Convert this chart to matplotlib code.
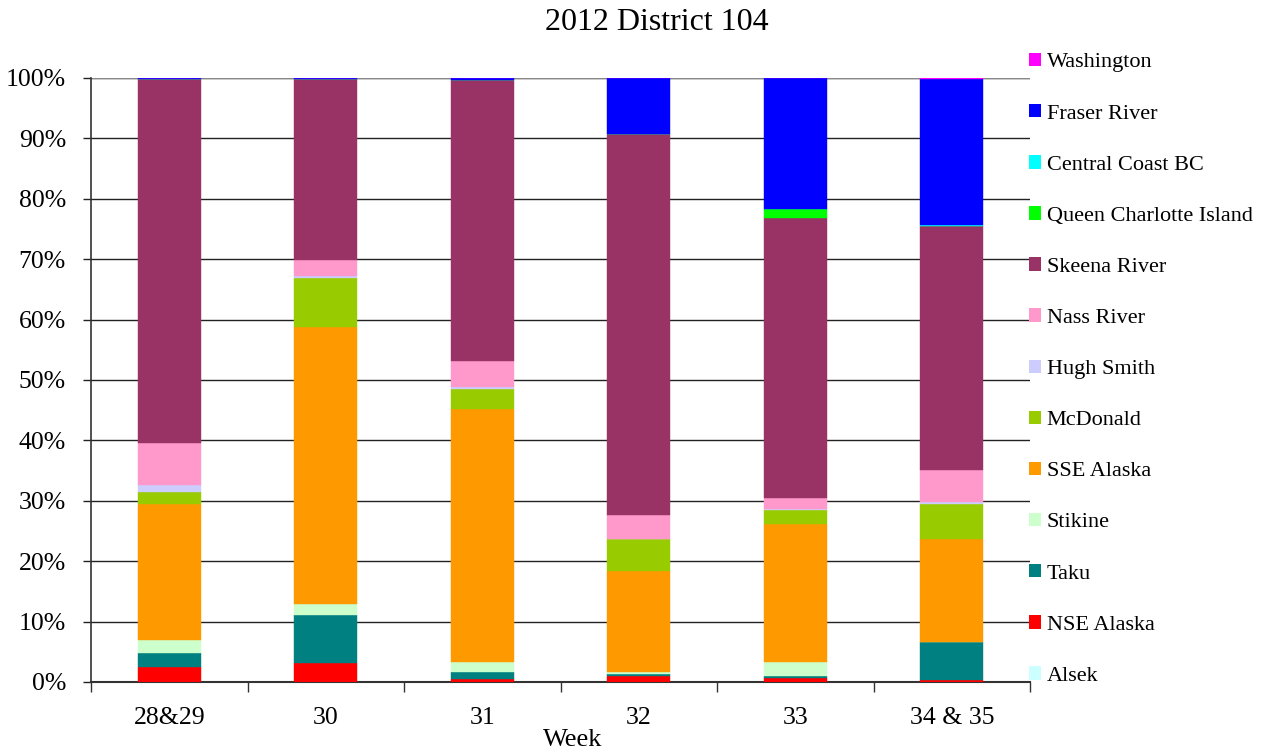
import matplotlib
matplotlib.use("Agg")
import matplotlib.pyplot as plt
from matplotlib.ticker import PercentFormatter, FixedLocator
from matplotlib.patches import Patch

weeks = ["28&29", "30", "31", "32", "33", "34 & 35"]

alsek      = [0.0, 0.0, 0.0, 0.0, 0.0, 0.0]
nse_alaska = [2.5, 3.2, 0.5, 1.05, 0.7, 0.4]
taku       = [2.35, 7.95, 1.2, 0.25, 0.35, 6.15]
stikine    = [2.1, 1.7, 1.65, 0.3, 2.3, 0.1]
sse_alaska = [22.45, 45.95, 41.85, 16.7, 22.85, 16.95]
mcdonald   = [2.1, 8.1, 3.3, 5.4, 2.2, 5.9]
hugh_smith = [1.1, 0.3, 0.3, 0.05, 0.2, 0.3]
nass       = [7.0, 2.7, 4.3, 3.85, 1.9, 5.35]
skeena     = [60.2, 29.9, 46.6, 63.2, 46.4, 40.25]
qci        = [0.0, 0.0, 0.0, 0.0, 1.4, 0.0]
central_bc = [0.0, 0.0, 0.0, 0.0, 0.0, 0.2]
fraser     = [0.2, 0.2, 0.3, 9.2, 21.7, 24.2]
washington = [0.0, 0.0, 0.0, 0.0, 0.0, 0.15]

series = [
    ("Alsek", alsek, "#CCFFFF"),
    ("NSE Alaska", nse_alaska, "#FF0000"),
    ("Taku", taku, "#008080"),
    ("Stikine", stikine, "#CCFFCC"),
    ("SSE Alaska", sse_alaska, "#FF9900"),
    ("McDonald", mcdonald, "#99CC00"),
    ("Hugh Smith", hugh_smith, "#CCCCFF"),
    ("Nass River", nass, "#FF99CC"),
    ("Skeena River", skeena, "#993366"),
    ("Queen Charlotte Island", qci, "#00FF00"),
    ("Central Coast BC", central_bc, "#00FFFF"),
    ("Fraser River", fraser, "#0000FF"),
    ("Washington", washington, "#FF00FF"),
]

plt.rcParams['font.family'] = ['Liberation Serif', 'DejaVu Serif']

W, H = 1273, 756
fig = plt.figure(figsize=(W/100, H/100), dpi=100)
ax = fig.add_axes([91/W, (H-682)/H, (1030-91)/W, (682-78)/H])

x = list(range(len(weeks)))
bottom = [0.0]*len(weeks)
handles = []
for name, vals, col in series:
    tot = [sum(s[1][i] for s in series) for i in range(len(weeks))]
    frac = [v/t for v, t in zip(vals, tot)]
    ax.bar(x, frac, width=0.4, bottom=bottom, color=col, edgecolor=col, linewidth=0.3, zorder=3)
    bottom = [b+f for b, f in zip(bottom, frac)]
    handles.append(Patch(facecolor=col, edgecolor='none', label=name))

ax.set_xlim(-0.5, len(weeks)-0.5)
ax.set_ylim(0, 1)
ax.yaxis.set_major_locator(FixedLocator([i/10 for i in range(11)]))
ax.yaxis.set_major_formatter(PercentFormatter(1.0, decimals=0))
ax.set_xticks(x)
ax.set_xticklabels(weeks)
ax.set_xticks([i-0.5 for i in range(len(weeks)+1)], minor=True)
ax.tick_params(axis='x', which='major', length=0, labelsize=18.5, pad=18)
ax.tick_params(axis='x', which='minor', length=7, width=1, direction='out', color='#333333')
ax.tick_params(axis='y', length=6, width=1, direction='out', labelsize=18.5, pad=12, color='#222222')
ax.grid(axis='y', color='#222222', linewidth=1.0, zorder=0)
for s in ['top', 'right']:
    ax.spines[s].set_visible(False)
ax.spines['left'].set_color('#333333')
ax.spines['bottom'].set_color('#333333')
ax.spines['left'].set_linewidth(1.2)
ax.spines['bottom'].set_linewidth(1.5)
ax.axhline(1.0, color='#888888', linewidth=1.6, zorder=2)

fig.text(657/W, 1-23/H, "2012 District 104", fontsize=23, ha='center', va='center')
fig.text(573/W, 1-740/H, "Week", fontsize=19, ha='center', va='center')

leg = fig.legend(handles=handles[::-1], loc='upper left', bbox_to_anchor=(1020/W, 1-44/H),
                 frameon=False, fontsize=16, handlelength=0.55, handleheight=0.55,
                 handletextpad=0.25, labelspacing=1.42, borderaxespad=0)

fig.savefig("out.png", dpi=100)
